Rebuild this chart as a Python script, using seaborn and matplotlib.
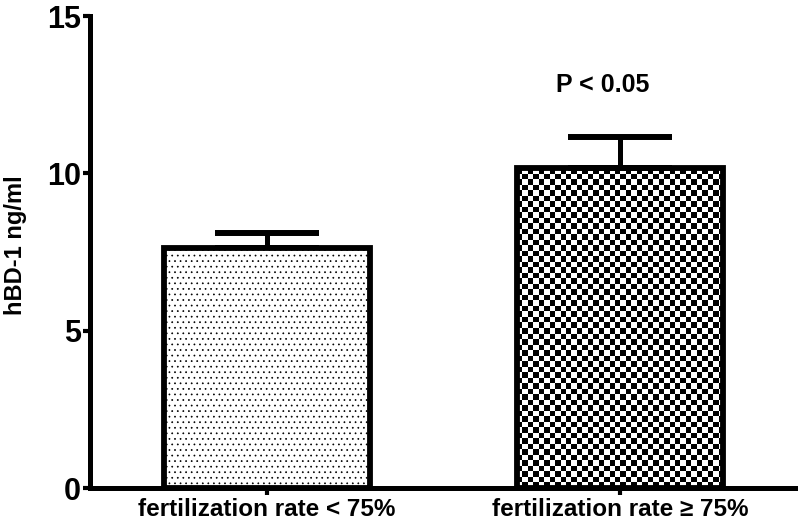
import numpy as np
import matplotlib
matplotlib.use("Agg")
import matplotlib.pyplot as plt
import seaborn as sns
import pandas as pd

categories = ["fertilization rate < 75%", "fertilization rate \u2265 75%"]
means = [7.62, 10.16]
errors = [0.48, 0.98]
y_ticks = [0, 5, 10, 15]
y_label = "hBD-1 ng/ml"
annotation = "P < 0.05"

sns.set_theme(style="white")
plt.rcParams["font.family"] = ["Liberation Sans", "DejaVu Sans"]
plt.rcParams["hatch.linewidth"] = 0.5
plt.rcParams["text.color"] = "black"
plt.rcParams["axes.labelcolor"] = "black"
plt.rcParams["xtick.color"] = "black"
plt.rcParams["ytick.color"] = "black"

fig = plt.figure(figsize=(7.98, 5.23), dpi=100)
ax = fig.add_axes([90 / 798, 1 - 488 / 523, 707 / 798, 472 / 523])

df = pd.DataFrame({"group": categories, "value": means})
sns.barplot(data=df, x="group", y="value", color="white", width=0.584,
            edgecolor="black", linewidth=4.2, ax=ax, zorder=3)

ax.set_xlim(-0.5, 1.5)
ax.set_ylim(0, 15)

patches = ax.patches
# bar 1: dotted texture
patches[0].set_hatch("...")
patches[0].set_facecolor("white")

# bar 2: checkerboard texture via clipped image
p = patches[1]
p.set_facecolor("none")
x0, w, h = p.get_x(), p.get_width(), p.get_height()
fig.canvas.draw()
(px0, py0) = ax.transData.transform((x0, 0))
(px1, py1) = ax.transData.transform((x0 + w, h))
cell = 5.5
nx = int(round((px1 - px0) / cell))
ny = int(round((py1 - py0) / cell))
ii, jj = np.indices((ny, nx))
board = ((ii + jj) % 2).astype(float)
im = ax.imshow(board, cmap="gray", extent=(x0, x0 + w, 0, h), aspect="auto",
               interpolation="nearest", zorder=2, vmin=0, vmax=1)
im.set_clip_path(p)
ax.set_xlim(-0.5, 1.5)
ax.set_ylim(0, 15)

# error bars (upper only)
xs = [pp.get_x() + pp.get_width() / 2 for pp in patches]
ax.errorbar(xs, means, yerr=[np.zeros(len(errors)), errors], fmt="none",
            ecolor="black", elinewidth=3.6, capsize=37.5, capthick=4.3, zorder=2.5)

ax.text(xs[1] - 0.05, 12.8, annotation, ha="center", va="center",
        fontsize=18, fontweight="bold", color="black")

for s in ["top", "right"]:
    ax.spines[s].set_visible(False)
for s in ["left", "bottom"]:
    ax.spines[s].set_linewidth(3.6)
    ax.spines[s].set_color("black")

ax.set_yticks(y_ticks)
ax.set_yticklabels([str(t) for t in y_ticks], fontsize=22, fontweight="bold")
ax.set_xticks(range(len(categories)))
ax.set_xticklabels(categories, fontsize=17.5, fontweight="bold")
ax.tick_params(axis="both", which="major", direction="out", length=5, width=3,
               color="black", labelcolor="black", pad=1.5, left=True, bottom=True)
ax.tick_params(axis="x", pad=2)
ax.set_xlabel("")
ax.set_ylabel(y_label, fontsize=17, fontweight="bold", va="center", color="black")
ax.yaxis.set_label_coords(-0.106, 0.515)

fig.savefig("out.png", dpi=100)
